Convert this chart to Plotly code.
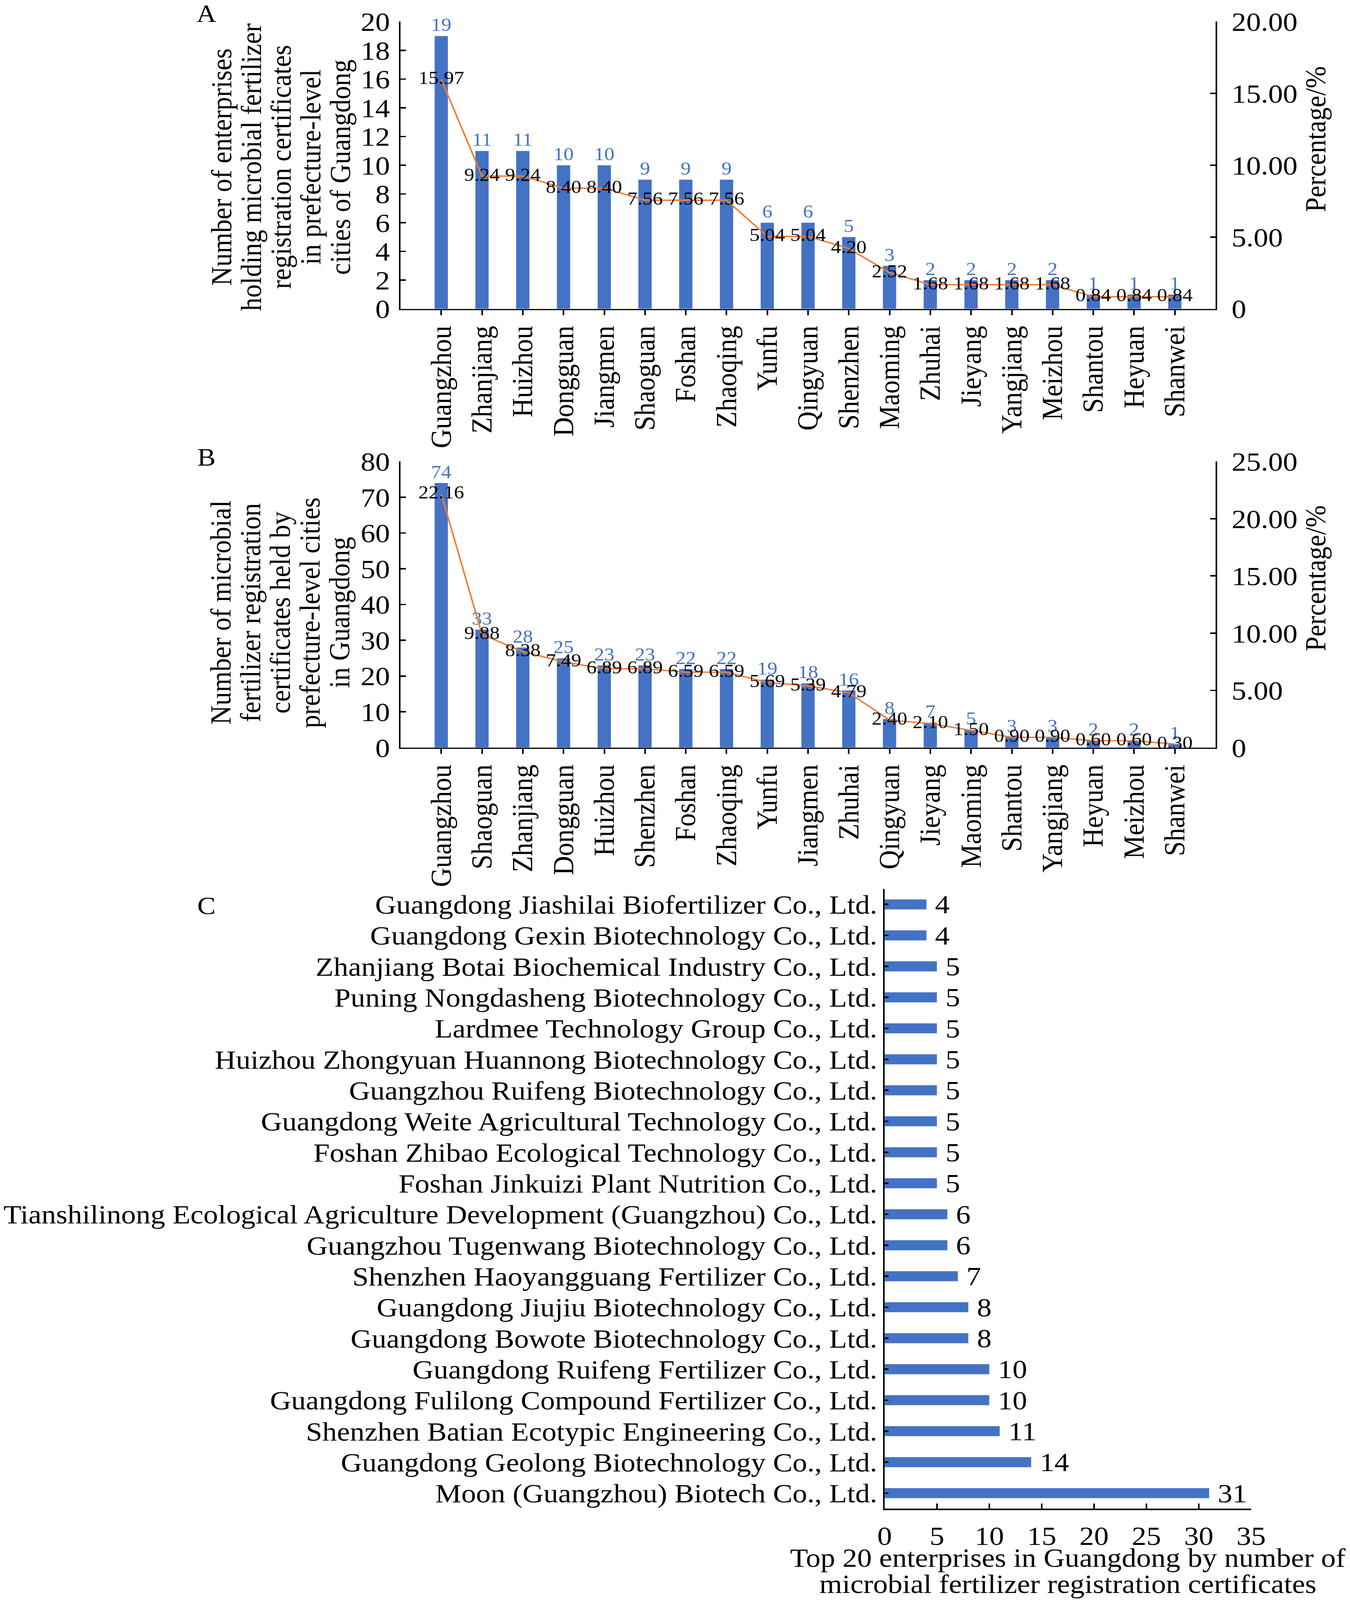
import plotly.graph_objects as go

W, H = 3455, 4518
FONT = "Liberation Serif, Times New Roman, serif"
BLUE = "#4472C4"
ORANGE = "#ED7D31"

# panel A: enterprises per city
cities_a = ["Guangzhou", "Zhanjiang", "Huizhou", "Dongguan", "Jiangmen", "Shaoguan",
            "Foshan", "Zhaoqing", "Yunfu", "Qingyuan", "Shenzhen", "Maoming", "Zhuhai",
            "Jieyang", "Yangjiang", "Meizhou", "Shantou", "Heyuan", "Shanwei"]
firms_a = [19, 11, 11, 10, 10, 9, 9, 9, 6, 6, 5, 3, 2, 2, 2, 2, 1, 1, 1]
share_a = [15.97, 9.24, 9.24, 8.40, 8.40, 7.56, 7.56, 7.56, 5.04, 5.04, 4.20, 2.52,
           1.68, 1.68, 1.68, 1.68, 0.84, 0.84, 0.84]

# panel B: certificates per city
cities_b = ["Guangzhou", "Shaoguan", "Zhanjiang", "Dongguan", "Huizhou", "Shenzhen",
            "Foshan", "Zhaoqing", "Yunfu", "Jiangmen", "Zhuhai", "Qingyuan", "Jieyang",
            "Maoming", "Shantou", "Yangjiang", "Heyuan", "Meizhou", "Shanwei"]
certs_b = [74, 33, 28, 25, 23, 23, 22, 22, 19, 18, 16, 8, 7, 5, 3, 3, 2, 2, 1]
share_b = [22.16, 9.88, 8.38, 7.49, 6.89, 6.89, 6.59, 6.59, 5.69, 5.39, 4.79, 2.40,
           2.10, 1.50, 0.90, 0.90, 0.60, 0.60, 0.30]

# panel C: top 20 enterprises (top to bottom)
companies = [
    "Guangdong Jiashilai Biofertilizer Co., Ltd.",
    "Guangdong Gexin Biotechnology Co., Ltd.",
    "Zhanjiang Botai Biochemical Industry Co., Ltd.",
    "Puning Nongdasheng Biotechnology Co., Ltd.",
    "Lardmee Technology Group Co., Ltd.",
    "Huizhou Zhongyuan Huannong Biotechnology Co., Ltd.",
    "Guangzhou Ruifeng Biotechnology Co., Ltd.",
    "Guangdong Weite Agricultural Technology Co., Ltd.",
    "Foshan Zhibao Ecological Technology Co., Ltd.",
    "Foshan Jinkuizi Plant Nutrition Co., Ltd.",
    "Tianshilinong Ecological Agriculture Development (Guangzhou) Co., Ltd.",
    "Guangzhou Tugenwang Biotechnology Co., Ltd.",
    "Shenzhen Haoyangguang Fertilizer Co., Ltd.",
    "Guangdong Jiujiu Biotechnology Co., Ltd.",
    "Guangdong Bowote Biotechnology Co., Ltd.",
    "Guangdong Ruifeng Fertilizer Co., Ltd.",
    "Guangdong Fulilong Compound Fertilizer Co., Ltd.",
    "Shenzhen Batian Ecotypic Engineering Co., Ltd.",
    "Guangdong Geolong Biotechnology Co., Ltd.",
    "Moon (Guangzhou) Biotech Co., Ltd.",
]
certs_c = [4, 4, 5, 5, 5, 5, 5, 5, 5, 5, 6, 6, 7, 8, 8, 10, 10, 11, 14, 31]

pct_ticks_a = [0, 5, 10, 15, 20]
pct_labels_a = ["0", "5.00", "10.00", "15.00", "20.00"]
pct_ticks_b = [0, 5, 10, 15, 20, 25]
pct_labels_b = ["0", "5.00", "10.00", "15.00", "20.00", "25.00"]

title_a = ["Number of enterprises", "holding microbial fertilizer",
           "registration certificates", "in prefecture-level", "cities of Guangdong"]
title_b = ["Number of microbial", "fertilizer registration", "certificates held by",
           "prefecture-level cities", "in Guangdong"]
title_c = ["Top 20 enterprises in Guangdong by number of",
           "microbial fertilizer registration certificates"]

FS = 75     # main text size
FS_LAB = 52  # data labels in A and B


def fx(p):
    return p / W


def fy(p):
    return 1 - p / H


fig = go.Figure()

# A
fig.add_trace(go.Bar(x=cities_a, y=firms_a, marker_color=BLUE, text=firms_a,
                     textposition="outside", constraintext="none", cliponaxis=False,
                     textfont=dict(color=BLUE, size=FS_LAB, family=FONT),
                     xaxis="x", yaxis="y"))
fig.add_trace(go.Scatter(x=cities_a, y=share_a, mode="lines+text",
                         line=dict(color=ORANGE, width=4),
                         texttemplate="%{y:.2f}", textposition="middle center",
                         textfont=dict(color="black", size=FS_LAB, family=FONT),
                         cliponaxis=False, xaxis="x", yaxis="y2"))
# B
fig.add_trace(go.Bar(x=cities_b, y=certs_b, marker_color=BLUE, text=certs_b,
                     textposition="outside", constraintext="none", cliponaxis=False,
                     textfont=dict(color=BLUE, size=FS_LAB, family=FONT),
                     xaxis="x2", yaxis="y3"))
fig.add_trace(go.Scatter(x=cities_b, y=share_b, mode="lines+text",
                         line=dict(color=ORANGE, width=4),
                         texttemplate="%{y:.2f}", textposition="middle center",
                         textfont=dict(color="black", size=FS_LAB, family=FONT),
                         cliponaxis=False, xaxis="x2", yaxis="y4"))
# C
fig.add_trace(go.Bar(x=certs_c, y=companies, orientation="h", marker_color=BLUE,
                     texttemplate=" %{x}", textposition="outside", constraintext="none",
                     cliponaxis=False, textfont=dict(color="black", size=FS, family=FONT),
                     xaxis="x3", yaxis="y5"))

axis_common = dict(showgrid=False, zeroline=False, showline=True, linecolor="black",
                   linewidth=4, tickcolor="black", tickwidth=4, automargin=False,
                   tickfont=dict(size=FS, family=FONT, color="black"))

dom_x = [fx(1025), fx(3111)]
fig.update_layout(
    width=W, height=H, template="simple_white",
    margin=dict(l=0, r=0, t=0, b=0),
    paper_bgcolor="white", plot_bgcolor="white",
    showlegend=False, bargap=0.67,
    font=dict(family=FONT, size=FS, color="black"),
    xaxis=dict(axis_common, domain=dom_x, anchor="y", ticks="outside", ticklen=14,
               tickangle=-90),
    yaxis=dict(axis_common, domain=[fy(872), fy(61)], anchor="x", range=[0, 20],
               dtick=2, ticks="inside", ticklen=14, ticklabelstandoff=8),
    yaxis2=dict(axis_common, overlaying="y", side="right", anchor="x", range=[0, 20],
                tickvals=pct_ticks_a, ticktext=pct_labels_a, ticks="inside", ticklen=14,
                ticklabelstandoff=22),
    xaxis2=dict(axis_common, domain=dom_x, anchor="y3", ticks="outside", ticklen=14,
                tickangle=-90),
    yaxis3=dict(axis_common, domain=[fy(2111), fy(1303)], anchor="x2", range=[0, 80],
                dtick=10, ticks="inside", ticklen=14, ticklabelstandoff=8),
    yaxis4=dict(axis_common, overlaying="y3", side="right", anchor="x2", range=[0, 25],
                tickvals=pct_ticks_b, ticktext=pct_labels_b, ticks="inside", ticklen=14,
                ticklabelstandoff=22),
    xaxis3=dict(axis_common, domain=[fx(2264), fx(3202)], anchor="y5", range=[0, 35],
                dtick=5, ticks="inside", ticklen=14, ticklabelstandoff=8),
    yaxis5=dict(axis_common, domain=[fy(4260), fy(2510)], anchor="x3",
                autorange="reversed", dtick=1, ticks="inside", ticklen=10),
)


def note(text, xp, yp, angle=0, size=FS):
    return dict(text=text, x=fx(xp), y=fy(yp), xref="paper", yref="paper",
                xanchor="center", yanchor="middle", showarrow=False,
                textangle=angle, font=dict(size=size, family=FONT, color="black"))


ann = []
for letter, yp in [("A", 39), ("B", 1291), ("C", 2557)]:
    ann.append(note(letter, 528, yp, size=70))
for i, line in enumerate(title_a):
    ann.append(note(line, 566 + 76 * i, 472, angle=-90))
for i, line in enumerate(title_b):
    ann.append(note(line, 565 + 76 * i, 1730, angle=-90))
for i, line in enumerate(title_c):
    ann.append(note(line, 2733, 4398 + 74 * i))
ann.append(note("Percentage/%", 3366, 393, angle=-90))
ann.append(note("Percentage/%", 3366, 1633, angle=-90))
fig.update_layout(annotations=ann)

# if the visible window is smaller than the figure, shrink the drawing to fit it
fit_js = """
document.body.style.margin = '0';
document.body.style.overflow = 'hidden';
var gd = document.getElementById('{plot_id}');
var sx = Math.min(1, window.innerWidth / %d), sy = Math.min(1, window.innerHeight / %d);
if (sx < 1 || sy < 1) {
    gd.style.transformOrigin = '0 0';
    gd.style.transform = 'scale(' + sx + ',' + sy + ')';
}
""" % (W, H)

fig.write_html("out.html", post_script=fit_js, config={"displayModeBar": False})
